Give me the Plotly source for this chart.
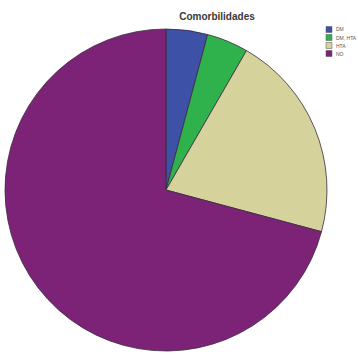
import plotly.graph_objects as go

categories = ["DM", "DM, HTA", "HTA", "NO"]
counts = [1, 1, 5, 17]
colors = ["#3d51a6", "#2fb24c", "#d6d29c", "#7c2378"]
title_text = "Comorbilidades"

W = H = 358
cx, cy, r = 166, 190, 161

fig = go.Figure(go.Pie(
    labels=categories,
    values=counts,
    sort=False,
    direction="clockwise",
    rotation=0,
    textinfo="none",
    hoverinfo="label+value+percent",
    marker=dict(colors=colors, line=dict(color="#3a2a40", width=0.8)),
    domain=dict(x=[(cx - r) / W, (cx + r) / W], y=[1 - (cy + r) / H, 1 - (cy - r) / H]),
    showlegend=False,
))

# compact legend (swatch + label), built from the category/colour lists
lx, ly0, step, sw = 326, 29.5, 8, 6
shapes, annos = [], []
for i, (cat, col) in enumerate(zip(categories, colors)):
    yc = ly0 + i * step
    shapes.append(dict(type="rect", xref="paper", yref="paper",
                       x0=lx / W, x1=(lx + sw) / W,
                       y0=1 - (yc + sw / 2) / H, y1=1 - (yc - sw / 2) / H,
                       fillcolor=col, line=dict(color="#555555", width=0.5)))
    annos.append(dict(text=cat, xref="paper", yref="paper", x=(lx + sw + 2) / W, y=1 - yc / H,
                      xanchor="left", yanchor="middle", showarrow=False,
                      font=dict(family="Liberation Sans, Arial", size=5, color="#555555")))

fig.update_layout(
    width=W, height=H,
    margin=dict(l=0, r=0, t=0, b=0, autoexpand=False),
    paper_bgcolor="white",
    plot_bgcolor="white",
    title=dict(text="<b>" + title_text + "</b>", x=217 / W, xanchor="center", y=1 - 16.5 / H, yanchor="middle",
               font=dict(family="Liberation Sans, Arial", size=10, color="#3a3a3a")),
    shapes=shapes,
    annotations=annos,
    showlegend=False,
)

fig.write_html("out.html")
